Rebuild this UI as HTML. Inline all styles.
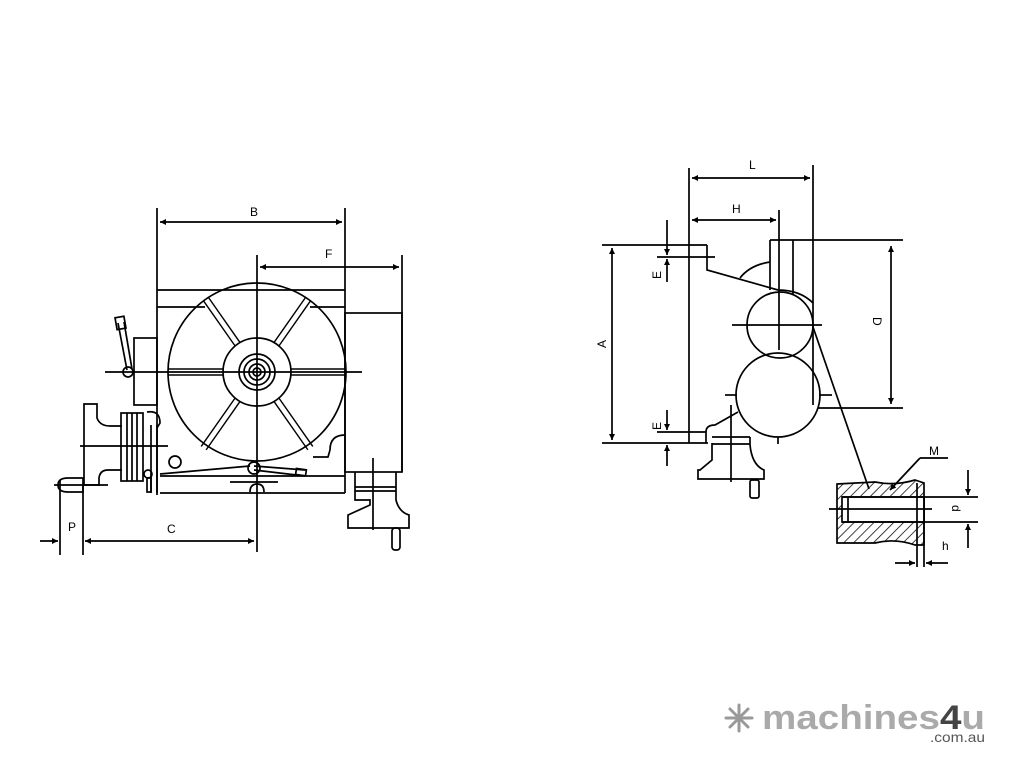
<!DOCTYPE html>
<html><head><meta charset="utf-8"><style>
html,body{margin:0;padding:0;background:#fff;}
svg{display:block;}
text{font-family:"Liberation Sans",sans-serif;}
</style></head><body>
<svg width="1024" height="768" viewBox="0 0 1024 768" xmlns="http://www.w3.org/2000/svg">
<defs>
<marker id="a" viewBox="0 0 10 10" refX="10" refY="5" markerWidth="9" markerHeight="6" orient="auto-start-reverse" markerUnits="userSpaceOnUse"><path d="M0,0 L10,5 L0,10 z" fill="#000"/></marker>
<pattern id="h" width="7" height="7" patternUnits="userSpaceOnUse" patternTransform="rotate(45)"><line x1="0" y1="0" x2="0" y2="7" stroke="#000" stroke-width="1.5"/></pattern>
</defs>
<g fill="none" stroke="#000" stroke-width="1.7">
<!-- LEFT VIEW -->
<line x1="157" y1="208" x2="157" y2="495"/>
<line x1="345" y1="208" x2="345" y2="493"/>
<line x1="160" y1="222" x2="342" y2="222" marker-start="url(#a)" marker-end="url(#a)"/>
<line x1="257" y1="255" x2="257" y2="552"/>
<line x1="402" y1="255" x2="402" y2="472"/>
<line x1="260" y1="267" x2="399" y2="267" marker-start="url(#a)" marker-end="url(#a)"/>
<line x1="157" y1="290" x2="345" y2="290"/>
<line x1="157" y1="307" x2="205" y2="307"/>
<line x1="310" y1="307" x2="345" y2="307"/>
<rect x="345" y="313" width="57" height="159"/>
<circle cx="257" cy="372" r="89"/>
<circle cx="257" cy="372" r="34"/>
<circle cx="257" cy="372" r="18"/>
<circle cx="257" cy="372" r="13"/>
<circle cx="257" cy="372" r="8"/>
<circle cx="257" cy="372" r="4"/>
<line x1="105" y1="372" x2="362" y2="372"/>
<g stroke-width="1.4">
<line x1="168" y1="369" x2="223" y2="369"/><line x1="168" y1="375" x2="223" y2="375"/>
<line x1="291" y1="369" x2="346" y2="369"/><line x1="291" y1="375" x2="346" y2="375"/>
<g transform="rotate(55 257 372)"><line x1="168" y1="369" x2="223" y2="369"/><line x1="168" y1="375" x2="223" y2="375"/><line x1="291" y1="369" x2="350" y2="369"/><line x1="291" y1="375" x2="350" y2="375"/></g>
<g transform="rotate(-55 257 372)"><line x1="164" y1="369" x2="223" y2="369"/><line x1="164" y1="375" x2="223" y2="375"/><line x1="291" y1="369" x2="346" y2="369"/><line x1="291" y1="375" x2="346" y2="375"/></g>
</g>
<rect x="134" y="338" width="23" height="67"/>
<line x1="118" y1="323" x2="127" y2="370"/><line x1="124" y1="322" x2="132" y2="369"/>
<rect x="116" y="317" width="9" height="12" transform="rotate(-10 120 323)"/>
<circle cx="128" cy="372" r="5"/>
<path d="M84,485 V404 H97 V418 Q100,426 110,426 H122"/>
<path d="M84,485 H99 V478 Q100,470 108,470 H122"/>
<rect x="121" y="413" width="22" height="68"/>
<line x1="127" y1="413" x2="127" y2="481"/><line x1="132" y1="413" x2="132" y2="481"/><line x1="137" y1="413" x2="137" y2="481"/>
<line x1="80" y1="446" x2="168" y2="446"/>
<line x1="151" y1="425" x2="151" y2="493"/><line x1="157" y1="425" x2="157" y2="493"/>
<circle cx="148" cy="474" r="4"/><rect x="147" y="478" width="4" height="14"/>
<path d="M147,412 Q160,410 160,423 L157,428"/>
<path d="M58,485 Q58,478 68,478 H83 V492 H68 Q58,492 58,485"/>
<line x1="54" y1="485" x2="108" y2="485"/>
<circle cx="175" cy="462" r="6"/>
<path d="M160,493 H345"/>
<line x1="160" y1="474" x2="250" y2="466"/>
<line x1="160" y1="476" x2="345" y2="476"/>
<path d="M330,450 Q330,435 345,435"/>
<path d="M313,457 H328 Q330,450 330,450"/>
<circle cx="254" cy="468" r="6"/>
<line x1="254" y1="466" x2="305" y2="470"/><line x1="254" y1="470" x2="305" y2="476"/>
<rect x="296" y="469" width="10" height="6" transform="rotate(8 300 472)"/>
<line x1="230" y1="482" x2="278" y2="482"/>
<path d="M250,492 Q250,484 257,484 Q264,484 264,492"/>
<path d="M355,472 V500 H370 V505 L348,515 V528 H409 V515 Q399,512 396,500 V472"/>
<line x1="355" y1="487" x2="396" y2="487"/><line x1="355" y1="491" x2="396" y2="491"/>
<line x1="373" y1="458" x2="373" y2="530"/>
<rect x="392" y="528" width="8" height="22" rx="3"/>
<line x1="60" y1="480" x2="60" y2="555"/>
<line x1="83" y1="485" x2="83" y2="555"/>
<line x1="40" y1="541" x2="58" y2="541" marker-end="url(#a)"/>
<line x1="85" y1="541" x2="254" y2="541" marker-start="url(#a)" marker-end="url(#a)"/>
<!-- RIGHT VIEW -->
<line x1="689" y1="168" x2="689" y2="443"/>
<line x1="813" y1="165" x2="813" y2="405"/>
<line x1="692" y1="178" x2="810" y2="178" marker-start="url(#a)" marker-end="url(#a)"/>
<line x1="779" y1="210" x2="779" y2="350"/>
<line x1="692" y1="220" x2="776" y2="220" marker-start="url(#a)" marker-end="url(#a)"/>
<line x1="602" y1="245" x2="707" y2="245"/>
<line x1="770" y1="240" x2="903" y2="240"/>
<line x1="612" y1="248" x2="612" y2="440" marker-start="url(#a)" marker-end="url(#a)"/>
<line x1="602" y1="443" x2="708" y2="443"/>
<path d="M707,245 V270 L778,290 Q800,290 813,303"/>
<path d="M740,278 Q750,265 770,262"/>
<line x1="770" y1="240" x2="770" y2="290"/><line x1="793" y1="240" x2="793" y2="295"/>
<line x1="657" y1="257" x2="715" y2="257"/>
<line x1="667" y1="220" x2="667" y2="255" marker-end="url(#a)"/>
<line x1="667" y1="282" x2="667" y2="259" marker-end="url(#a)"/>
<circle cx="780" cy="325" r="33"/>
<circle cx="778" cy="395" r="42"/>
<line x1="732" y1="325" x2="822" y2="325"/>
<line x1="725" y1="395" x2="737" y2="395"/><line x1="819" y1="395" x2="832" y2="395"/>
<line x1="778" y1="437" x2="778" y2="444"/>
<line x1="818" y1="408" x2="903" y2="408"/>
<line x1="891" y1="246" x2="891" y2="404" marker-start="url(#a)" marker-end="url(#a)"/>
<line x1="813" y1="327" x2="869" y2="489"/>
<line x1="657" y1="432" x2="706" y2="432"/>
<line x1="667" y1="410" x2="667" y2="430" marker-end="url(#a)"/>
<line x1="667" y1="466" x2="667" y2="445" marker-end="url(#a)"/>
<path d="M706,443 V432 Q706,425 715,425 L738,412"/>
<path d="M712,443 V460 L700,470 H698 V479 H764 V470 Q752,465 750,445 L750,437"/>
<line x1="712" y1="437" x2="750" y2="437"/><line x1="712" y1="444" x2="750" y2="444"/>
<line x1="731" y1="405" x2="731" y2="482"/>
<rect x="750" y="480" width="9" height="18" rx="2"/>
<path d="M837,484 L875,482 Q895,486 915,480 L924,483 V545 H915 Q895,538 875,543 H837 Z" fill="url(#h)"/>
<rect x="842" y="497" width="82" height="25" fill="#fff"/>
<line x1="842" y1="497" x2="924" y2="497"/><line x1="842" y1="522" x2="924" y2="522"/>
<line x1="848" y1="497" x2="848" y2="522"/>
<line x1="829" y1="509" x2="932" y2="509"/>
<line x1="917" y1="483" x2="917" y2="567"/><line x1="924" y1="497" x2="924" y2="567"/>
<line x1="924" y1="497" x2="978" y2="497"/><line x1="924" y1="522" x2="978" y2="522"/>
<line x1="968" y1="470" x2="968" y2="495" marker-end="url(#a)"/>
<line x1="968" y1="548" x2="968" y2="524" marker-end="url(#a)"/>
<line x1="895" y1="563" x2="915" y2="563" marker-end="url(#a)"/>
<line x1="948" y1="563" x2="926" y2="563" marker-end="url(#a)"/>
<line x1="948" y1="458" x2="920" y2="458"/>
<line x1="920" y1="458" x2="890" y2="490" marker-end="url(#a)"/>
</g>
<g font-size="12" fill="#000">
<text x="250" y="216">B</text>
<text x="325" y="258">F</text>
<text x="68" y="531">P</text>
<text x="167" y="533">C</text>
<text x="749" y="169">L</text>
<text x="732" y="213">H</text>
<text x="929" y="455">M</text>
<text transform="translate(606,348) rotate(-90)">A</text>
<text transform="translate(661,279) rotate(-90)">E</text>
<text transform="translate(661,430) rotate(-90)">E</text>
<text transform="translate(873,317) rotate(90)">D</text>
<text transform="translate(952,505) rotate(90)">d</text>
<text x="942" y="550">h</text>
</g>
<g stroke="#999" stroke-width="3" stroke-linecap="round">
<line x1="726" y1="718" x2="752" y2="718"/><line x1="739" y1="705" x2="739" y2="731"/>
<line x1="730" y1="709" x2="748" y2="727"/><line x1="748" y1="709" x2="730" y2="727"/>
</g>
<text x="762" y="729" font-size="34" font-weight="bold" fill="#aaa" textLength="223" lengthAdjust="spacingAndGlyphs">machines<tspan fill="#444">4</tspan>u</text>
<text x="930" y="742" font-size="14" fill="#555" textLength="55" lengthAdjust="spacingAndGlyphs">.com.au</text>
</svg>
</body></html>
